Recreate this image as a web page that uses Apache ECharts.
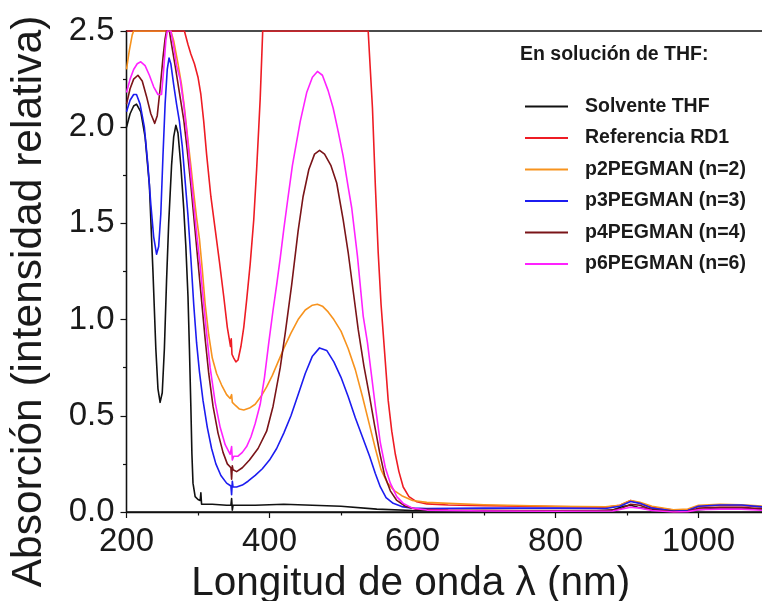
<!DOCTYPE html>
<html><head><meta charset="utf-8">
<script src="https://cdn.jsdelivr.net/npm/echarts@6/dist/echarts.min.js"></script>
<style>html,body{margin:0;padding:0;background:#fff}#c{width:762px;height:601px}</style>
</head><body><div id="c"></div>
<script>
// ---- data (wavelength nm, absorbance) ----
const seriesNames = ['Solvente THF','Referencia RD1','p2PEGMAN (n=2)','p3PEGMAN (n=3)','p4PEGMAN (n=4)','p6PEGMAN (n=6)'];
const xTicks = [200, 400, 600, 800, 1000];
const yTicks = [0.0, 0.5, 1.0, 1.5, 2.0, 2.5];

const thfX = [200,205,210,214,220,226,232,237,241,244,247,250,253,256,259,263,266,269,272,276,280,283,286,288,290,291.5,293,296,300,303,304,305,320,340,346,347,348,349,380,420,460,500,550,600,700,850,880,895,905,915,930,960,980,1000,1030,1060,1093];
const thfY = [2.00,2.07,2.11,2.12,2.08,1.95,1.70,1.25,0.85,0.64,0.57,0.62,0.85,1.20,1.50,1.80,1.95,2.01,1.97,1.80,1.58,1.38,1.12,0.85,0.55,0.30,0.15,0.08,0.065,0.06,0.10,0.04,0.04,0.035,0.035,0.07,0.01,0.035,0.035,0.04,0.035,0.03,0.015,0.008,0.005,0.005,0.01,0.03,0.035,0.025,0.015,0.01,0.005,0.012,0.02,0.02,0.012];

const rd1X = [200,281,286,290,295,300,304,308,312,318,324,330,336,341,345.5,346.5,347.5,350,353,356,360,364,368,373,378,382,385,387,389,390.5,538,541,544,548,552,556,560,566,571,576,581,587,595,606,620,650,700,800,870,890,905,918,935,965,985,1000,1030,1060,1093];
const rd1Y = [2.5,2.5,2.43,2.38,2.33,2.26,2.17,2.03,1.86,1.64,1.47,1.30,1.12,0.96,0.86,0.90,0.82,0.80,0.78,0.79,0.86,0.96,1.10,1.29,1.52,1.78,2.00,2.15,2.35,2.5,2.5,2.30,2.10,1.70,1.35,1.08,0.88,0.58,0.42,0.30,0.21,0.13,0.08,0.053,0.042,0.036,0.033,0.028,0.025,0.035,0.06,0.045,0.025,0.01,0.012,0.03,0.035,0.034,0.025];

const p2X = [200,204,208,210,262,266,272,277,281,286,290,294,298,302,306,310,315,320,326,333,340,345,347,348,352,358,364,372,380,388,396,404,412,420,430,440,450,460,467,474,482,490,500,510,520,530,540,548,556,565,575,585,600,620,650,700,800,870,890,905,918,935,965,985,1000,1030,1060,1093];
const p2Y = [2.30,2.40,2.48,2.5,2.5,2.45,2.33,2.22,2.10,1.93,1.80,1.66,1.53,1.42,1.26,1.08,0.92,0.80,0.72,0.66,0.61,0.59,0.61,0.57,0.555,0.535,0.53,0.54,0.56,0.60,0.65,0.71,0.78,0.85,0.93,1.00,1.05,1.075,1.08,1.07,1.04,1.00,0.94,0.85,0.74,0.60,0.45,0.33,0.22,0.15,0.11,0.085,0.06,0.05,0.045,0.038,0.03,0.027,0.035,0.06,0.05,0.03,0.012,0.015,0.035,0.04,0.038,0.03];

const p3X = [200,205,210,214,219,225,230,234,238,242,245,248,251,254,257,259.5,262,266,270,274,278,282,286,290,294,298,302,307,313,319,325,332,340,346,347,348,349,354,362,370,380,390,400,410,420,430,440,450,460,470,480,490,500,510,520,530,540,548,555,563,573,585,600,620,700,800,870,890,905,918,935,965,985,1000,1030,1060,1093];
const p3Y = [2.08,2.14,2.17,2.17,2.12,2.00,1.80,1.60,1.43,1.34,1.38,1.55,1.85,2.12,2.30,2.36,2.33,2.22,2.12,2.03,1.90,1.72,1.54,1.32,1.08,0.88,0.73,0.58,0.44,0.33,0.25,0.19,0.15,0.135,0.09,0.16,0.13,0.13,0.14,0.16,0.19,0.225,0.27,0.33,0.41,0.50,0.61,0.72,0.81,0.853,0.84,0.78,0.70,0.60,0.49,0.39,0.29,0.20,0.13,0.075,0.045,0.028,0.02,0.018,0.02,0.02,0.018,0.03,0.055,0.045,0.02,0.005,0.008,0.03,0.036,0.036,0.025];

const p4X = [200,205,210,216,222,228,234,239.5,243,247,251,254,256,260,263,268,274,280,285,290,295,300,305,310,315,321,328,335,341,346,347,348,349,354,362,372,384,396,405,415,422,431,440,447,455,463,470,477,486,494,503,510,517,524,532,540,547,554,561,569,578,590,605,650,750,870,890,905,918,935,965,985,1000,1030,1060,1093];
const p4Y = [2.12,2.20,2.25,2.27,2.24,2.16,2.07,2.02,2.06,2.20,2.36,2.46,2.5,2.5,2.43,2.32,2.18,2.04,1.88,1.70,1.50,1.30,1.10,0.90,0.72,0.55,0.41,0.31,0.25,0.23,0.17,0.24,0.22,0.21,0.23,0.27,0.33,0.42,0.55,0.75,0.93,1.18,1.46,1.64,1.78,1.86,1.88,1.86,1.80,1.71,1.52,1.35,1.15,0.95,0.76,0.60,0.45,0.31,0.19,0.11,0.06,0.03,0.015,0.01,0.008,0.008,0.015,0.04,0.035,0.012,0.002,0.004,0.02,0.025,0.025,0.015];

const p6X = [200,205,210,215,220,226,232,238,244,249,252,255,257,262,266,270,275,280,285,289,294,298,303,308,312,317,324,331,338,345,346,347,348,350,356,362,368,374,380,387,393,399,405,410,415,420,425,432,443,452,460,467,474,482,489,496,503,510,515,523,531,537,541,548,555,562,569,578,587,600,620,700,800,880,905,918,935,965,985,1000,1030,1060,1093];
const p6Y = [2.18,2.25,2.30,2.33,2.34,2.32,2.27,2.21,2.17,2.17,2.30,2.45,2.5,2.5,2.42,2.32,2.25,2.12,1.95,1.79,1.60,1.45,1.28,1.08,0.93,0.75,0.57,0.44,0.35,0.30,0.29,0.34,0.27,0.29,0.29,0.31,0.34,0.39,0.46,0.56,0.70,0.88,1.05,1.18,1.32,1.47,1.61,1.80,2.03,2.18,2.26,2.29,2.27,2.19,2.10,1.98,1.85,1.69,1.58,1.33,1.02,0.88,0.76,0.55,0.36,0.23,0.15,0.08,0.045,0.02,0.01,0.005,0.004,0.005,0.025,0.02,0.008,0.0,0.002,0.012,0.015,0.015,0.008];

const seriesX = [thfX, rd1X, p2X, p3X, p4X, p6X];
const seriesY = [thfY, rd1Y, p2Y, p3Y, p4Y, p6Y];
const colors = ['#111111','#ee1c24','#f7931e','#1c1cf0','#7a1418','#ff22ff'];
const widths = [1.6,1.6,1.6,1.6,1.6,1.6];

const zip = (xs, ys) => xs.map((x, i) => [x, ys[i]]);
const FONT = '"Liberation Sans", Arial, sans-serif';

const chart = echarts.init(document.getElementById('c'), null, {renderer: 'canvas'});
chart.setOption({
  animation: false,
  backgroundColor: '#ffffff',
  title: {
    text: 'En solución de THF:',
    left: 515, top: 40,
    textStyle: {fontFamily: FONT, fontSize: 19.5, fontWeight: 'bold', color: '#1a1a1a'}
  },
  legend: {
    orient: 'vertical',
    left: 520, top: 91.5,
    icon: 'rect',
    itemWidth: 43, itemHeight: 2,
    itemGap: 11.5,
    selectedMode: false,
    data: seriesNames,
    textStyle: {fontFamily: FONT, fontSize: 19.5, fontWeight: 'bold', color: '#1a1a1a', lineHeight: 20, padding: [0,0,0,12]}
  },
  grid: {
    left: 126.5, top: 31, right: -3, bottom: 89,
    outerBoundsMode: 'none', containLabel: false,
    show: true, borderColor: '#111', borderWidth: 1.3, backgroundColor: 'transparent'
  },
  xAxis: {
    type: 'value', min: 200, max: 1093, interval: 200,
    name: 'Longitud de onda λ (nm)', nameLocation: 'middle', nameGap: 45,
    nameTextStyle: {fontFamily: FONT, fontSize: 40.5, color: '#1a1a1a', padding: [0, 70, 0, 0]},
    axisLine: {show: true, onZero: false, lineStyle: {color: '#111', width: 1.3}},
    axisTick: {show: true, inside: false, length: 6, lineStyle: {color: '#111', width: 1.2}},
    minorTick: {show: true, splitNumber: 2, length: 3.5, lineStyle: {color: '#111', width: 1.2}},
    splitLine: {show: false},
    axisLabel: {fontFamily: FONT, fontSize: 33, color: '#1a1a1a', margin: 13, showMaxLabel: false,
      formatter: v => xTicks.includes(v) ? String(v) : ''}
  },
  yAxis: {
    type: 'value', min: 0, max: 2.5, interval: 0.5,
    name: 'Absorción (intensidad relativa)', nameLocation: 'middle', nameGap: 76,
    nameTextStyle: {fontFamily: FONT, fontSize: 42.5, color: '#1a1a1a', padding: [0, 60, 0, 0]},
    axisLine: {show: true, onZero: false, lineStyle: {color: '#111', width: 1.3}},
    axisTick: {show: true, inside: false, length: 6, lineStyle: {color: '#111', width: 1.2}},
    minorTick: {show: true, splitNumber: 2, length: 3.5, lineStyle: {color: '#111', width: 1.2}},
    splitLine: {show: false},
    axisLabel: {fontFamily: FONT, fontSize: 33, color: '#1a1a1a', margin: 12,
      formatter: v => yTicks.some(t => Math.abs(t - v) < 1e-9) ? v.toFixed(1) : ''}
  },
  series: seriesNames.map((name, i) => ({
    name, type: 'line',
    data: zip(seriesX[i], seriesY[i]),
    showSymbol: false, symbol: 'none',
    smooth: false,
    clip: true,
    color: colors[i],
    lineStyle: {color: colors[i], width: widths[i], join: 'round'},
    z: 2 + i
  }))
});
</script></body></html>
